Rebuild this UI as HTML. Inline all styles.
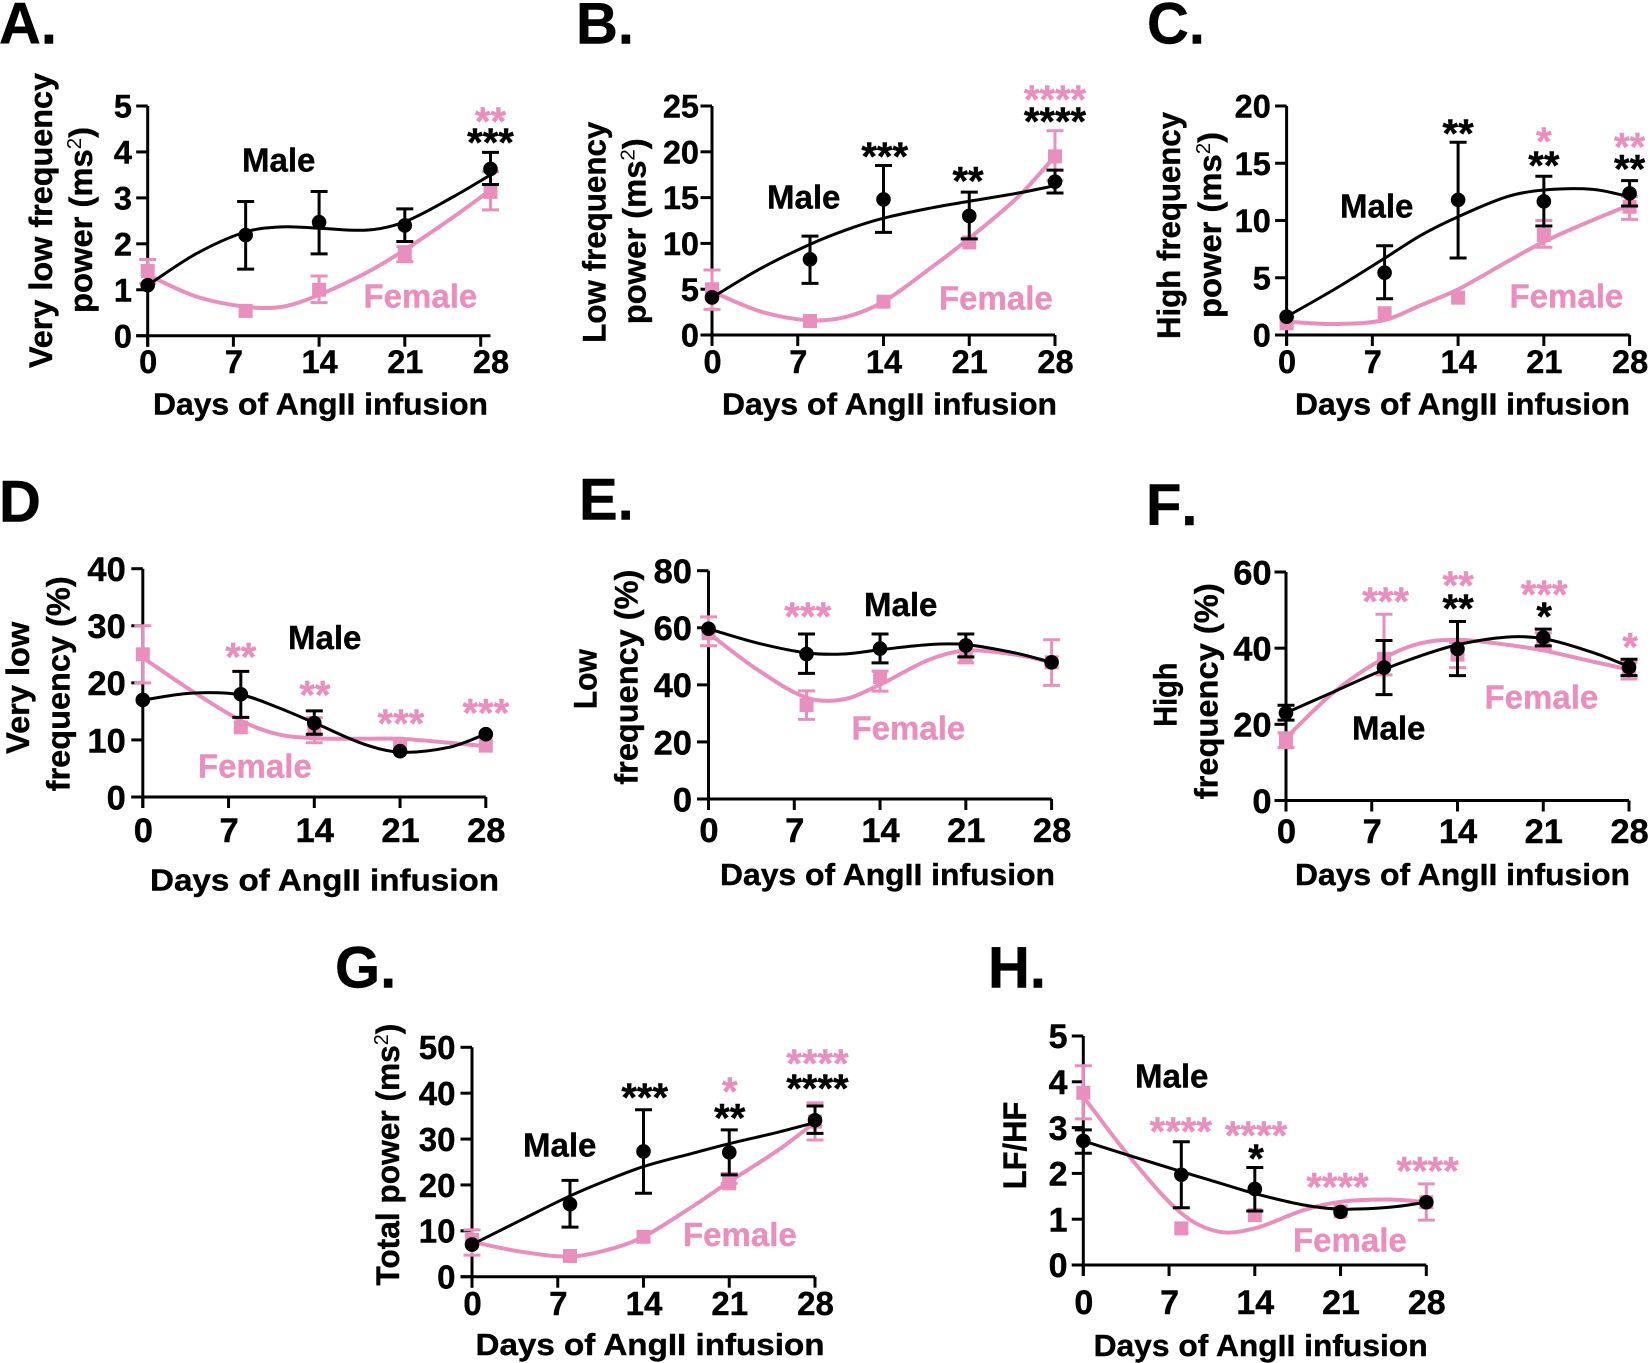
<!DOCTYPE html>
<html lang="en">
<head>
<meta charset="utf-8">
<title>Heart rate variability during AngII infusion</title>
<style>
html,body{margin:0;padding:0;background:#fff;}
svg{display:block;}
text{font-family:"Liberation Sans",Arial,sans-serif;font-weight:bold;fill:#000;stroke:#000;stroke-width:.4px;}
.letter{font-size:58px;font-kerning:none;}
.xt{font-size:31px;text-anchor:middle;}
.yt{font-size:32px;text-anchor:middle;}
.lab{font-size:33px;}
.f{fill:#E98FBE;stroke:#E98FBE;}
.sup{font-size:20px;font-weight:normal;stroke-width:0;}
</style>
</head>
<body>
<svg id="fig" xmlns="http://www.w3.org/2000/svg" width="1650" height="1363" viewBox="0 0 1650 1363">
  <g id="panel-a">
    <text class="letter" x="-1" y="43.3">A.</text>
    <text class="yt" transform="rotate(-90 52 220.5)" x="52" y="220.5" textLength="295" lengthAdjust="spacingAndGlyphs">Very low frequency</text>
    <text class="yt" transform="rotate(-90 92.2 220)" x="92.2" y="220" textLength="186" lengthAdjust="spacingAndGlyphs">power (ms<tspan class="sup" dy="-11">2</tspan><tspan dy="11">)</tspan></text>
    <text class="xt" x="320.5" y="414.3" textLength="335" lengthAdjust="spacingAndGlyphs">Days of AngII infusion</text>
    <text class="lab" x="242" y="171.7">Male</text>
    <text class="lab f" x="363.5" y="307.3">Female</text>
  </g>
  <g id="panel-b">
    <text class="letter" x="576" y="43.3">B.</text>
    <text class="yt" transform="rotate(-90 605.4 232.2)" x="605.4" y="232.2" textLength="221" lengthAdjust="spacingAndGlyphs">Low frequency</text>
    <text class="yt" transform="rotate(-90 645.4 231.3)" x="645.4" y="231.3" textLength="186" lengthAdjust="spacingAndGlyphs">power (ms<tspan class="sup" dy="-11">2</tspan><tspan dy="11">)</tspan></text>
    <text class="xt" x="889.5" y="414.3" textLength="335" lengthAdjust="spacingAndGlyphs">Days of AngII infusion</text>
    <text class="lab" x="767" y="208.3">Male</text>
    <text class="lab f" x="939" y="309.3">Female</text>
  </g>
  <g id="panel-c">
    <text class="letter" x="1147" y="43.3">C.</text>
    <text class="yt" transform="rotate(-90 1180 225.5)" x="1180" y="225.5" textLength="227" lengthAdjust="spacingAndGlyphs">High frequency</text>
    <text class="yt" transform="rotate(-90 1221 225)" x="1221" y="225" textLength="186" lengthAdjust="spacingAndGlyphs">power (ms<tspan class="sup" dy="-11">2</tspan><tspan dy="11">)</tspan></text>
    <text class="xt" x="1462.5" y="414.3" textLength="335" lengthAdjust="spacingAndGlyphs">Days of AngII infusion</text>
    <text class="lab" x="1340" y="217.7">Male</text>
    <text class="lab f" x="1509.5" y="307.3">Female</text>
  </g>
  <g id="panel-d">
    <text class="letter" x="-1" y="521.7">D</text>
    <text class="yt" transform="rotate(-90 28.8 687.85)" x="28.8" y="687.85" textLength="132" lengthAdjust="spacingAndGlyphs">Very low</text>
    <text class="yt" transform="rotate(-90 69.4 683.85)" x="69.4" y="683.85" textLength="215" lengthAdjust="spacingAndGlyphs">frequency (%)</text>
    <text class="xt" x="324.5" y="890.7" textLength="349" lengthAdjust="spacingAndGlyphs">Days of AngII infusion</text>
    <text class="lab" x="288" y="649">Male</text>
    <text class="lab f" x="198" y="777.7">Female</text>
  </g>
  <g id="panel-e">
    <text class="letter" x="579" y="519.3">E.</text>
    <text class="yt" transform="rotate(-90 596.6 679.15)" x="596.6" y="679.15" textLength="60" lengthAdjust="spacingAndGlyphs">Low</text>
    <text class="yt" transform="rotate(-90 637.7 677.15)" x="637.7" y="677.15" textLength="215" lengthAdjust="spacingAndGlyphs">frequency (%)</text>
    <text class="xt" x="887.5" y="885" textLength="335" lengthAdjust="spacingAndGlyphs">Days of AngII infusion</text>
    <text class="lab" x="864" y="616">Male</text>
    <text class="lab f" x="851.5" y="739.3">Female</text>
  </g>
  <g id="panel-f">
    <text class="letter" x="1146" y="525">F.</text>
    <text class="yt" transform="rotate(-90 1176.5 694.7)" x="1176.5" y="694.7" textLength="64" lengthAdjust="spacingAndGlyphs">High</text>
    <text class="yt" transform="rotate(-90 1217.5 691.3)" x="1217.5" y="691.3" textLength="216" lengthAdjust="spacingAndGlyphs">frequency (%)</text>
    <text class="xt" x="1462.5" y="885" textLength="335" lengthAdjust="spacingAndGlyphs">Days of AngII infusion</text>
    <text class="lab" x="1352" y="739.3">Male</text>
    <text class="lab f" x="1484.5" y="708.3">Female</text>
  </g>
  <g id="panel-g">
    <text class="letter" x="335" y="987.3">G.</text>
    <text class="yt" transform="rotate(-90 399 1154.65)" x="399" y="1154.65" textLength="262" lengthAdjust="spacingAndGlyphs">Total power (ms<tspan class="sup" dy="-11">2</tspan><tspan dy="11">)</tspan></text>
    <text class="xt" x="650" y="1355" textLength="349" lengthAdjust="spacingAndGlyphs">Days of AngII infusion</text>
    <text class="lab" x="523" y="1156.7">Male</text>
    <text class="lab f" x="683" y="1246">Female</text>
  </g>
  <g id="panel-h">
    <text class="letter" x="988" y="987.3">H.</text>
    <text class="yt" transform="rotate(-90 1026 1145.5)" x="1026" y="1145.5" textLength="87.6" lengthAdjust="spacingAndGlyphs">LF/HF</text>
    <text class="xt" x="1260.6" y="1356" textLength="334" lengthAdjust="spacingAndGlyphs">Days of AngII infusion</text>
    <text class="lab" x="1135" y="1087.7">Male</text>
    <text class="lab f" x="1293" y="1251.7">Female</text>
  </g>
</svg>
<script>
const dayTicks = [0, 7, 14, 21, 28];
const pointDays = [0, 8, 14, 21, 28];
const fitDays = [0, 4, 8, 11, 14, 18, 21, 25, 28];

const aTicks = [0, 1, 2, 3, 4, 5];
const aMale = [1.1, 2.19, 2.47, 2.4, 3.63];
const aMaleUp = [1.1, 2.92, 3.14, 2.76, 3.99];
const aMaleLo = [1.1, 1.45, 1.78, 2.05, 3.29];
const aFemale = [1.41, 0.54, 1.0, 1.78, 3.13];
const aFemaleUp = [1.66, 0.54, 1.3, 1.94, 3.57];
const aFemaleLo = [1.14, 0.54, 0.72, 1.61, 2.74];
const aMaleFit = [1.1, 1.79, 2.26, 2.37, 2.34, 2.3, 2.48, 3.03, 3.5];
const aFemaleFit = [1.32, 0.85, 0.63, 0.63, 0.89, 1.39, 1.87, 2.59, 3.17];
const aSigDays = [28, 28];
const aSigLevels = [4.78, 4.32];
const aSigMarks = ['**', '***'];
const aSigSex = ['f', 'm'];

const bTicks = [0, 5, 10, 15, 20, 25];
const bMale = [4.1, 8.26, 14.8, 13, 16.74];
const bMaleUp = [4.1, 10.8, 18.5, 15.6, 18.0];
const bMaleLo = [4.1, 5.64, 11.2, 10.5, 15.5];
const bFemale = [5, 1.53, 3.64, 10.1, 19.5];
const bFemaleUp = [7.1, 1.53, 3.64, 10.1, 22.3];
const bFemaleLo = [2.8, 1.53, 3.64, 10.1, 16.9];
const bMaleFit = [4.1, 7.28, 9.9, 11.5, 12.75, 13.9, 14.6, 15.5, 16.3];
const bFemaleFit = [4.73, 2.55, 1.6, 2.0, 3.64, 7.46, 10.55, 15.1, 19.5];
const bSigDays = [14.1, 20.9, 28, 28];
const bSigLevels = [20.1, 17.4, 26.3, 23.9];
const bSigMarks = ['***', '**', '****', '****'];
const bSigSex = ['m', 'm', 'f', 'm'];

const cTicks = [0, 5, 10, 15, 20];
const cMale = [1.6, 5.44, 11.8, 11.67, 12.37];
const cMaleUp = [1.6, 7.8, 16.83, 13.86, 13.48];
const cMaleLo = [1.6, 3.17, 6.72, 9.52, 11.27];
const cFemale = [1.02, 1.9, 3.26, 8.73, 11.2];
const cFemaleUp = [1.02, 1.9, 3.26, 10, 12.1];
const cFemaleLo = [1.02, 1.9, 3.26, 7.66, 10.1];
const cMaleFit = [1.6, 4.05, 6.7, 8.73, 10.33, 12.08, 12.66, 12.72, 12.08];
const cFemaleFit = [1.16, 0.96, 1.31, 2.62, 3.99, 6.4, 8.15, 10.04, 11.35];
const cSigDays = [14, 21, 21, 28, 28];
const cSigLevels = [18.1, 17.4, 15.3, 16.9, 15];
const cSigMarks = ['**', '*', '**', '**', '**'];
const cSigSex = ['m', 'f', 'm', 'f', 'm'];

const dTicks = [0, 10, 20, 30, 40];
const dMale = [17, 18, 12.96, 8.02, 11];
const dMaleUp = [17, 22, 15.1, 8.02, 11];
const dMaleLo = [17, 13.95, 11, 8.02, 11];
const dFemale = [25, 12.2, 11.3, 9, 9];
const dFemaleUp = [30, 12.2, 13.9, 9, 9];
const dFemaleLo = [20, 12.2, 9.5, 9, 9];
const dMaleFit = [17, 18.2, 17.9, 15.7, 13, 9.3, 7.85, 8.7, 11];
const dFemaleFit = [24.4, 18.6, 13.4, 11, 10.3, 10.2, 10.2, 9.5, 8.9];
const dSigDays = [8, 14.05, 21.07, 28];
const dSigLevels = [25.5, 18.8, 13.8, 15.7];
const dSigMarks = ['**', '**', '***', '***'];
const dSigSex = ['f', 'f', 'f', 'f'];

const eTicks = [0, 20, 40, 60, 80];
const eMale = [59.65, 50.8, 52.7, 53.8, 47.9];
const eMaleUp = [59.65, 57.8, 57.8, 57.8, 47.9];
const eMaleLo = [59.65, 44, 47.7, 49.8, 47.9];
const eFemale = [58.1, 32.9, 42.7, 50, 47.9];
const eFemaleUp = [63.8, 37.9, 44.8, 52, 55.8];
const eFemaleLo = [53.7, 27.9, 37.8, 47.7, 39.8];
const eMaleFit = [59.65, 54.65, 51.2, 50.8, 52.3, 54.1, 54.1, 51.2, 47.9];
const eFemaleFit = [58.1, 45.3, 35.5, 34.9, 40.1, 48.8, 52, 50.6, 47.9];
const eSigDays = [8.1];
const eSigLevels = [65.9];
const eSigMarks = ['***'];
const eSigSex = ['f'];

const fTicks = [0, 20, 40, 60];
const fMale = [23, 34.9, 39.8, 42.8, 35];
const fMaleUp = [25, 42, 47, 45, 37.1];
const fMaleLo = [21.1, 27.8, 32.8, 40.6, 32.8];
const fFemale = [16, 37.2, 38.3, 42.2, 34.4];
const fFemaleUp = [17.8, 48.9, 41.5, 44, 36.3];
const fFemaleLo = [13.9, 33, 34.9, 39.8, 31.9];
const fMaleFit = [23, 28.7, 34.4, 38, 40.9, 42.9, 42.5, 38.9, 35.2];
const fFemaleFit = [16.5, 28.7, 37.4, 41.3, 42.2, 40.9, 39.4, 36.5, 34.4];
const fSigDays = [8.13, 14.05, 14.05, 21.07, 21.07, 28.1];
const fSigLevels = [53.7, 57.9, 51.8, 55.5, 49.8, 41.8];
const fSigMarks = ['***', '**', '**', '***', '*', '*'];
const fSigSex = ['f', 'f', 'm', 'f', 'm', 'f'];

const gTicks = [0, 10, 20, 30, 40, 50];
const gMale = [7, 15.8, 27.3, 27.1, 34.1];
const gMaleUp = [7, 21, 36.4, 32, 37.2];
const gMaleLo = [7, 10.8, 18.2, 22.2, 31.25];
const gFemale = [8, 4.5, 8.7, 20.35, 33.8];
const gFemaleUp = [10.2, 4.5, 8.7, 22.5, 37.9];
const gFemaleLo = [4.7, 4.5, 8.7, 20.35, 29.8];
const gMaleFit = [7, 12.35, 17.6, 21, 24, 26.9, 29, 31.5, 33.6];
const gFemaleFit = [7.6, 5.45, 4.4, 5.8, 8.7, 15.3, 20.7, 27.6, 33.6];
const gSigDays = [14.1, 21.04, 21.04, 28.2, 28.2];
const gSigLevels = [40.3, 41.6, 35.8, 47.7, 42.2];
const gSigMarks = ['***', '*', '**', '****', '****'];
const gSigSex = ['m', 'f', 'm', 'f', 'm'];

const hTicks = [0, 1, 2, 3, 4, 5];
const hMale = [2.71, 1.97, 1.66, 1.16, 1.37];
const hMaleUp = [2.95, 2.69, 2.13, 1.16, 1.37];
const hMaleLo = [2.44, 1.25, 1.18, 1.16, 1.37];
const hFemale = [3.76, 0.8, 1.09, 1.17, 1.37];
const hFemaleUp = [4.35, 0.8, 1.09, 1.17, 1.77];
const hFemaleLo = [3.19, 0.8, 1.09, 1.17, 0.98];
const hMaleFit = [2.71, 2.37, 2.04, 1.8, 1.56, 1.31, 1.22, 1.26, 1.37];
const hFemaleFit = [3.67, 2.29, 1.13, 0.73, 0.8, 1.2, 1.38, 1.43, 1.37];
const hSigDays = [7.96, 14.1, 14.1, 20.75, 28.1];
const hSigLevels = [3.04, 2.95, 2.45, 1.82, 2.17];
const hSigMarks = ['****', '****', '*', '****', '****'];
const hSigSex = ['f', 'f', 'm', 'f', 'f'];

const PINK = '#E98FBE';
const NS = 'http://www.w3.org/2000/svg';

const panels = [
  {id:'panel-a', left:147.7, right:490.5, base:335.7, top:106, lastTick:480.7, tk:aTicks, tf:32.5, gap:15.8, xb:373, m:aMale, mu:aMaleUp, ml:aMaleLo, w:aFemale, wu:aFemaleUp, wl:aFemaleLo, mf:aMaleFit, wf:aFemaleFit, sd:aSigDays, sl:aSigLevels, sm:aSigMarks, ss:aSigSex},
  {id:'panel-b', left:712, right:1055, base:335, top:106, tk:bTicks, tf:32.5, gap:13, xb:373, m:bMale, mu:bMaleUp, ml:bMaleLo, w:bFemale, wu:bFemaleUp, wl:bFemaleLo, mf:bMaleFit, wf:bFemaleFit, sd:bSigDays, sl:bSigLevels, sm:bSigMarks, ss:bSigSex},
  {id:'panel-c', left:1286.6, right:1629.6, base:335, top:106, tk:cTicks, tf:32.5, gap:15.8, xb:373, m:cMale, mu:cMaleUp, ml:cMaleLo, w:cFemale, wu:cFemaleUp, wl:cFemaleLo, mf:cMaleFit, wf:cFemaleFit, sd:cSigDays, sl:cSigLevels, sm:cSigMarks, ss:cSigSex},
  {id:'panel-d', left:142.8, right:485.8, base:797, top:568.7, tk:dTicks, tf:34.5, gap:17, xb:842, m:dMale, mu:dMaleUp, ml:dMaleLo, w:dFemale, wu:dFemaleUp, wl:dFemaleLo, mf:dMaleFit, wf:dFemaleFit, sd:dSigDays, sl:dSigLevels, sm:dSigMarks, ss:dSigSex},
  {id:'panel-e', left:708.5, right:1051.6, base:799, top:570.7, tk:eTicks, tf:34.5, gap:16.5, xb:842, m:eMale, mu:eMaleUp, ml:eMaleLo, w:eFemale, wu:eFemaleUp, wl:eFemaleLo, mf:eMaleFit, wf:eFemaleFit, sd:eSigDays, sl:eSigLevels, sm:eSigMarks, ss:eSigSex},
  {id:'panel-f', left:1286, right:1629, base:800.5, top:572, tk:fTicks, tf:34.5, gap:14.4, xb:843, m:fMale, mu:fMaleUp, ml:fMaleLo, w:fFemale, wu:fFemaleUp, wl:fFemaleLo, mf:fMaleFit, wf:fFemaleFit, sd:fSigDays, sl:fSigLevels, sm:fSigMarks, ss:fSigSex},
  {id:'panel-g', left:472, right:815, base:1276.7, top:1047.3, tk:gTicks, tf:33, gap:16.5, xb:1315, m:gMale, mu:gMaleUp, ml:gMaleLo, w:gFemale, wu:gFemaleUp, wl:gFemaleLo, mf:gMaleFit, wf:gFemaleFit, sd:gSigDays, sl:gSigLevels, sm:gSigMarks, ss:gSigSex},
  {id:'panel-h', left:1083.3, right:1426.3, base:1265, top:1036, tk:hTicks, tf:34, gap:15.8, xb:1314, m:hMale, mu:hMaleUp, ml:hMaleLo, w:hFemale, wu:hFemaleUp, wl:hFemaleLo, mf:hMaleFit, wf:hFemaleFit, sd:hSigDays, sl:hSigLevels, sm:hSigMarks, ss:hSigSex}
];

function make(tag, parent, name, attrs) {
  const el = document.createElementNS(NS, tag);
  
  
  for (const k in attrs) el.setAttribute(k, attrs[k]);
  parent.appendChild(el);
  return el;
}

function splinePath(xs, ys) {
  let d = 'M' + xs[0].toFixed(2) + ' ' + ys[0].toFixed(2);
  for (let i = 0; i < xs.length - 1; i++) {
    const i0 = Math.max(0, i - 1), i3 = Math.min(xs.length - 1, i + 2);
    const h = xs[i + 1] - xs[i];
    const m1 = (ys[i + 1] - ys[i0]) / (xs[i + 1] - xs[i0]);
    const m2 = (ys[i3] - ys[i]) / (xs[i3] - xs[i]);
    d += 'C' + (xs[i] + h / 3).toFixed(2) + ' ' + (ys[i] + m1 * h / 3).toFixed(2) + ' ' +
      (xs[i + 1] - h / 3).toFixed(2) + ' ' + (ys[i + 1] - m2 * h / 3).toFixed(2) + ' ' +
      xs[i + 1].toFixed(2) + ' ' + ys[i + 1].toFixed(2);
  }
  return d;
}

function drawSeries(g, label, color, lw, values, ups, lows, fit, xS, yS) {
  make('path', g, label + '-fit-curve', {
    d: splinePath(fitDays.map(xS), fit.map(yS)),
    fill: 'none', stroke: color, 'stroke-width': lw
  });
  pointDays.forEach(function (day, i) {
    const x = xS(day);
    const yU = yS(ups[i]), yL = yS(lows[i]), y = yS(values[i]);
    if (ups[i] !== lows[i]) {
      make('path', g, label + '-error-bar-day-' + day, {
        d: 'M' + x + ' ' + yU + 'V' + yL + 'M' + (x - 8.5) + ' ' + yU + 'H' + (x + 8.5) + 'M' + (x - 8.5) + ' ' + yL + 'H' + (x + 8.5),
        fill: 'none', stroke: color, 'stroke-width': 3
      });
    }
    if (label === 'male') {
      make('circle', g, 'male-point-day-' + day, {cx: x, cy: y, r: 7.3, fill: color});
    } else {
      make('rect', g, 'female-point-day-' + day, {x: x - 7, y: y - 7, width: 14, height: 14, fill: color});
    }
  });
}

panels.forEach(function (p) {
  const g = document.getElementById(p.id);
  const ymax = p.tk[p.tk.length - 1];
  const xS = function (d) { return p.left + d / 28 * (p.right - p.left); };
  const yS = function (v) { return p.base - v / ymax * (p.base - p.top); };

  make('path', g, 'y-axis-line', {d: 'M' + p.left + ' ' + p.top + 'V' + (p.base + 11), fill: 'none', stroke: '#000', 'stroke-width': 3});
  make('path', g, 'x-axis-line', {d: 'M' + (p.left - 11.5) + ' ' + p.base + 'H' + p.right, fill: 'none', stroke: '#000', 'stroke-width': 3});

  p.tk.forEach(function (t) {
    make('line', g, 'y-tick-' + t, {x1: p.left - 11.5, x2: p.left, y1: yS(t), y2: yS(t), stroke: '#000', 'stroke-width': 3});
    const lbl = make('text', g, 'y-tick-label-' + t, {x: p.left - p.gap, y: yS(t) + p.tf * 0.358, 'text-anchor': 'end', 'font-size': p.tf});
    lbl.textContent = t;
  });
  dayTicks.forEach(function (t) {
    const tx = (t === 28 && p.lastTick) ? p.lastTick : xS(t);
    make('line', g, 'x-tick-' + t, {x1: tx, x2: tx, y1: p.base, y2: p.base + 11, stroke: '#000', 'stroke-width': 3});
    const lbl = make('text', g, 'x-tick-label-' + t, {x: xS(t) + 0.5, y: p.xb, 'text-anchor': 'middle', 'font-size': p.tf});
    lbl.textContent = t;
  });

  drawSeries(g, 'female', PINK, 4, p.w, p.wu, p.wl, p.wf, xS, yS);
  drawSeries(g, 'male', '#000', 3, p.m, p.mu, p.ml, p.mf, xS, yS);

  p.sm.forEach(function (mark, i) {
    const isF = p.ss[i] === 'f';
    const col = isF ? PINK : '#000';
    const sig = make('text', g, (isF ? 'female' : 'male') + '-significance-' + i, {
      x: xS(p.sd[i]), y: yS(p.sl[i]) + 19, 'text-anchor': 'middle', 'font-size': 40, style: 'fill:' + col + ';stroke:' + col
    });
    sig.textContent = mark;
  });
});
</script>
</body>
</html>
